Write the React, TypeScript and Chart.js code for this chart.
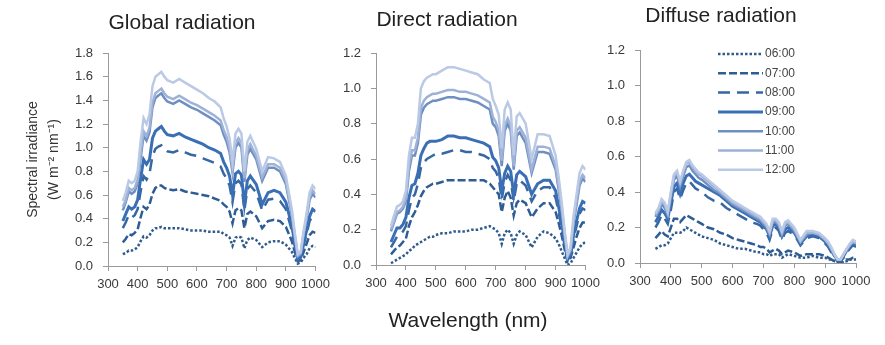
import React, { useEffect, useRef } from 'react';
import { Chart, registerables } from 'chart.js';

Chart.register(...registerables);

// ---------- DATA ----------
const WAVELENGTHS = [
  350, 360, 370, 380, 390, 400, 410, 420, 430, 440, 450, 460, 470, 480, 490, 500,
  520, 540, 560, 580, 600, 620, 640, 660, 680,
  690, 700, 710, 720, 730, 740, 750, 760, 770, 780,
  800, 820, 840, 860, 880,
  900, 910, 920, 930, 940, 950, 960, 970, 980, 990, 1000,
];

const HOURS = ['06:00', '07:00', '08:00', '09:00', '10:00', '11:00', '12:00'];

const X_TICKS = [300, 400, 500, 600, 700, 800, 900, 1000];
const Y_MAX_GLOBAL = 1.8;
const Y_MAX_DIRECT = 1.2;
const Y_MAX_DIFFUSE = 1.2;

// Global radiation
const GLOBAL_0600 = [
  0.10, 0.11, 0.13, 0.13, 0.14, 0.16, 0.21, 0.25, 0.24, 0.26, 0.30, 0.32, 0.32, 0.33, 0.32, 0.32,
  0.32, 0.32, 0.31, 0.30, 0.30, 0.30, 0.29, 0.29, 0.29,
  0.27, 0.26, 0.24, 0.17, 0.24, 0.25, 0.24, 0.15, 0.22, 0.24,
  0.22, 0.16, 0.20, 0.21, 0.21,
  0.18, 0.15, 0.12, 0.07, 0.02, 0.03, 0.07, 0.10, 0.15, 0.17, 0.16,
];
const GLOBAL_0700 = [
  0.20, 0.23, 0.27, 0.26, 0.28, 0.31, 0.41, 0.50, 0.48, 0.52, 0.61, 0.66, 0.68, 0.68, 0.66, 0.65,
  0.64, 0.65, 0.63, 0.62, 0.61, 0.60, 0.59, 0.57, 0.55,
  0.52, 0.50, 0.46, 0.36, 0.47, 0.49, 0.47, 0.32, 0.44, 0.46,
  0.42, 0.32, 0.38, 0.39, 0.38,
  0.33, 0.27, 0.21, 0.12, 0.04, 0.05, 0.12, 0.19, 0.26, 0.29, 0.28,
];
const GLOBAL_0800 = [
  0.32, 0.37, 0.43, 0.41, 0.43, 0.48, 0.63, 0.76, 0.73, 0.78, 0.93, 0.99, 1.01, 1.02, 0.99, 0.97,
  0.96, 0.98, 0.96, 0.94, 0.93, 0.91, 0.89, 0.87, 0.84,
  0.78, 0.74, 0.68, 0.54, 0.70, 0.72, 0.69, 0.47, 0.65, 0.68,
  0.62, 0.47, 0.56, 0.57, 0.55,
  0.48, 0.39, 0.30, 0.17, 0.05, 0.07, 0.18, 0.27, 0.38, 0.42, 0.40,
];
const GLOBAL_0900 = [
  0.38, 0.44, 0.50, 0.48, 0.50, 0.56, 0.74, 0.90, 0.86, 0.90, 1.08, 1.14, 1.16, 1.18, 1.14, 1.11,
  1.10, 1.12, 1.09, 1.07, 1.05, 1.03, 1.00, 0.98, 0.95,
  0.88, 0.83, 0.76, 0.60, 0.78, 0.80, 0.77, 0.52, 0.72, 0.76,
  0.69, 0.52, 0.62, 0.64, 0.62,
  0.54, 0.44, 0.34, 0.19, 0.06, 0.08, 0.20, 0.30, 0.42, 0.48, 0.46,
];
const GLOBAL_1000 = [
  0.47, 0.54, 0.63, 0.61, 0.63, 0.70, 0.91, 1.10, 1.06, 1.13, 1.34, 1.42, 1.44, 1.46, 1.42, 1.39,
  1.37, 1.40, 1.37, 1.34, 1.32, 1.29, 1.26, 1.23, 1.19,
  1.11, 1.05, 0.96, 0.79, 1.00, 1.04, 1.00, 0.71, 0.94, 0.99,
  0.90, 0.72, 0.83, 0.83, 0.80,
  0.69, 0.56, 0.43, 0.25, 0.08, 0.10, 0.27, 0.40, 0.56, 0.61, 0.58,
];
const GLOBAL_1100 = [
  0.50, 0.56, 0.66, 0.64, 0.66, 0.73, 0.95, 1.14, 1.10, 1.17, 1.38, 1.46, 1.48, 1.50, 1.46, 1.43,
  1.41, 1.44, 1.41, 1.38, 1.36, 1.33, 1.30, 1.27, 1.23,
  1.15, 1.09, 1.00, 0.82, 1.04, 1.08, 1.04, 0.74, 0.98, 1.03,
  0.93, 0.75, 0.86, 0.86, 0.83,
  0.72, 0.58, 0.45, 0.26, 0.09, 0.11, 0.28, 0.42, 0.58, 0.64, 0.61,
];
const GLOBAL_1200 = [
  0.55, 0.62, 0.72, 0.70, 0.72, 0.80, 1.05, 1.25, 1.20, 1.28, 1.52, 1.60, 1.62, 1.64, 1.60, 1.57,
  1.55, 1.58, 1.55, 1.52, 1.49, 1.46, 1.42, 1.39, 1.34,
  1.25, 1.18, 1.08, 0.88, 1.12, 1.16, 1.12, 0.80, 1.05, 1.10,
  0.99, 0.80, 0.92, 0.91, 0.88,
  0.76, 0.62, 0.48, 0.28, 0.10, 0.12, 0.30, 0.45, 0.62, 0.68, 0.65,
];

// Direct radiation
const DIRECT_0600 = [
  0.01, 0.02, 0.03, 0.04, 0.05, 0.06, 0.08, 0.09, 0.11, 0.12, 0.13, 0.14, 0.15, 0.16, 0.16, 0.17,
  0.18, 0.18, 0.19, 0.19, 0.19, 0.20, 0.20, 0.21, 0.22,
  0.21, 0.20, 0.18, 0.12, 0.18, 0.20, 0.18, 0.12, 0.17, 0.19,
  0.17, 0.10, 0.16, 0.19, 0.18,
  0.15, 0.12, 0.08, 0.04, 0.00, 0.01, 0.04, 0.07, 0.10, 0.12, 0.13,
];
const DIRECT_0700 = [
  0.06, 0.08, 0.10, 0.11, 0.13, 0.15, 0.22, 0.27, 0.30, 0.34, 0.39, 0.42, 0.44, 0.45, 0.46, 0.46,
  0.47, 0.48, 0.48, 0.48, 0.48, 0.48, 0.48, 0.48, 0.46,
  0.44, 0.42, 0.40, 0.30, 0.38, 0.42, 0.38, 0.28, 0.35, 0.37,
  0.35, 0.27, 0.32, 0.35, 0.35,
  0.30, 0.24, 0.17, 0.09, 0.02, 0.04, 0.10, 0.16, 0.21, 0.24, 0.24,
];
const DIRECT_0800 = [
  0.10, 0.13, 0.16, 0.17, 0.19, 0.22, 0.31, 0.38, 0.40, 0.46, 0.55, 0.58, 0.60, 0.61, 0.62, 0.63,
  0.63, 0.64, 0.65, 0.65, 0.64, 0.64, 0.63, 0.62, 0.60,
  0.55, 0.53, 0.49, 0.37, 0.47, 0.51, 0.48, 0.36, 0.46, 0.48,
  0.45, 0.36, 0.42, 0.44, 0.44,
  0.38, 0.30, 0.21, 0.11, 0.03, 0.05, 0.15, 0.22, 0.29, 0.32, 0.31,
];
const DIRECT_0900 = [
  0.13, 0.17, 0.21, 0.21, 0.23, 0.27, 0.38, 0.45, 0.46, 0.52, 0.62, 0.66, 0.69, 0.70, 0.70, 0.70,
  0.71, 0.73, 0.73, 0.72, 0.72, 0.71, 0.70, 0.69, 0.67,
  0.61, 0.59, 0.55, 0.42, 0.52, 0.56, 0.53, 0.40, 0.51, 0.53,
  0.50, 0.40, 0.46, 0.48, 0.48,
  0.42, 0.33, 0.24, 0.13, 0.04, 0.06, 0.17, 0.25, 0.32, 0.36, 0.35,
];
const DIRECT_1000 = [
  0.19, 0.24, 0.29, 0.30, 0.32, 0.36, 0.53, 0.62, 0.62, 0.69, 0.85, 0.89, 0.91, 0.92, 0.93, 0.93,
  0.94, 0.95, 0.95, 0.94, 0.94, 0.93, 0.92, 0.90, 0.88,
  0.80, 0.78, 0.73, 0.56, 0.76, 0.80, 0.76, 0.54, 0.73, 0.75,
  0.69, 0.52, 0.64, 0.64, 0.63,
  0.54, 0.43, 0.31, 0.17, 0.05, 0.08, 0.24, 0.34, 0.45, 0.49, 0.47,
];
const DIRECT_1100 = [
  0.20, 0.25, 0.30, 0.31, 0.33, 0.38, 0.56, 0.65, 0.65, 0.72, 0.89, 0.93, 0.95, 0.96, 0.97, 0.97,
  0.98, 0.99, 0.99, 0.98, 0.98, 0.97, 0.96, 0.94, 0.92,
  0.84, 0.81, 0.76, 0.59, 0.79, 0.83, 0.79, 0.56, 0.76, 0.78,
  0.72, 0.54, 0.67, 0.67, 0.66,
  0.56, 0.45, 0.33, 0.18, 0.05, 0.09, 0.25, 0.36, 0.47, 0.51, 0.49,
];
const DIRECT_1200 = [
  0.22, 0.28, 0.33, 0.34, 0.36, 0.42, 0.62, 0.72, 0.72, 0.80, 1.00, 1.04, 1.06, 1.07, 1.08, 1.08,
  1.10, 1.12, 1.12, 1.11, 1.10, 1.09, 1.08, 1.05, 1.03,
  0.94, 0.90, 0.85, 0.66, 0.88, 0.92, 0.88, 0.62, 0.84, 0.86,
  0.80, 0.60, 0.74, 0.74, 0.73,
  0.62, 0.50, 0.36, 0.20, 0.06, 0.10, 0.28, 0.40, 0.52, 0.56, 0.54,
];

// Diffuse radiation
const DIFFUSE_0600 = [
  0.08, 0.09, 0.10, 0.10, 0.11, 0.14, 0.17, 0.17, 0.17, 0.18, 0.20, 0.19, 0.18, 0.17, 0.16, 0.15,
  0.14, 0.13, 0.11, 0.10, 0.09, 0.08, 0.08, 0.07, 0.06,
  0.06, 0.05, 0.05, 0.04, 0.05, 0.05, 0.05, 0.03, 0.04, 0.05,
  0.04, 0.03, 0.03, 0.04, 0.03,
  0.03, 0.02, 0.02, 0.01, 0.00, 0.00, 0.01, 0.01, 0.02, 0.02, 0.02,
];
const DIFFUSE_0700 = [
  0.14, 0.16, 0.18, 0.16, 0.15, 0.20, 0.25, 0.25, 0.23, 0.25, 0.27, 0.26, 0.25, 0.24, 0.23, 0.22,
  0.20, 0.19, 0.17, 0.16, 0.14, 0.13, 0.12, 0.11, 0.10,
  0.09, 0.09, 0.08, 0.06, 0.07, 0.08, 0.07, 0.05, 0.06, 0.07,
  0.06, 0.04, 0.05, 0.05, 0.05,
  0.04, 0.03, 0.02, 0.01, 0.01, 0.00, 0.01, 0.02, 0.02, 0.03, 0.03,
];
const DIFFUSE_0800 = [
  0.20, 0.23, 0.27, 0.25, 0.22, 0.30, 0.40, 0.42, 0.36, 0.41, 0.45, 0.46, 0.44, 0.42, 0.41, 0.40,
  0.37, 0.35, 0.34, 0.31, 0.29, 0.27, 0.25, 0.23, 0.22,
  0.21, 0.19, 0.17, 0.13, 0.19, 0.20, 0.18, 0.13, 0.17, 0.18,
  0.16, 0.10, 0.14, 0.15, 0.14,
  0.11, 0.09, 0.06, 0.03, 0.01, 0.01, 0.03, 0.06, 0.08, 0.10, 0.09,
];
const DIFFUSE_0900 = [
  0.23, 0.26, 0.30, 0.28, 0.25, 0.34, 0.43, 0.45, 0.39, 0.45, 0.49, 0.50, 0.48, 0.46, 0.45, 0.44,
  0.42, 0.40, 0.38, 0.35, 0.32, 0.30, 0.28, 0.26, 0.24,
  0.23, 0.21, 0.19, 0.15, 0.21, 0.22, 0.20, 0.15, 0.19, 0.20,
  0.17, 0.11, 0.15, 0.16, 0.15,
  0.12, 0.10, 0.07, 0.04, 0.02, 0.02, 0.04, 0.07, 0.09, 0.11, 0.10,
];
const DIFFUSE_1000 = [
  0.26, 0.29, 0.33, 0.31, 0.27, 0.37, 0.47, 0.49, 0.43, 0.49, 0.54, 0.55, 0.52, 0.50, 0.48, 0.47,
  0.44, 0.41, 0.39, 0.36, 0.33, 0.31, 0.29, 0.27, 0.25,
  0.24, 0.22, 0.20, 0.16, 0.23, 0.23, 0.21, 0.16, 0.21, 0.22,
  0.18, 0.12, 0.16, 0.17, 0.16,
  0.13, 0.11, 0.08, 0.04, 0.02, 0.02, 0.05, 0.07, 0.10, 0.12, 0.11,
];
const DIFFUSE_1100 = [
  0.27, 0.30, 0.35, 0.33, 0.28, 0.39, 0.49, 0.51, 0.45, 0.51, 0.56, 0.57, 0.54, 0.52, 0.50, 0.49,
  0.46, 0.43, 0.40, 0.37, 0.34, 0.32, 0.30, 0.28, 0.26,
  0.25, 0.23, 0.21, 0.17, 0.24, 0.24, 0.22, 0.17, 0.22, 0.23,
  0.19, 0.12, 0.17, 0.17, 0.16,
  0.13, 0.11, 0.08, 0.05, 0.02, 0.02, 0.05, 0.08, 0.10, 0.12, 0.11,
];
const DIFFUSE_1200 = [
  0.28, 0.31, 0.36, 0.34, 0.29, 0.40, 0.50, 0.52, 0.46, 0.52, 0.57, 0.58, 0.55, 0.53, 0.51, 0.50,
  0.47, 0.44, 0.41, 0.38, 0.35, 0.33, 0.31, 0.29, 0.27,
  0.26, 0.24, 0.22, 0.18, 0.25, 0.25, 0.23, 0.18, 0.23, 0.24,
  0.20, 0.13, 0.18, 0.18, 0.17,
  0.14, 0.12, 0.09, 0.05, 0.02, 0.02, 0.05, 0.08, 0.11, 0.13, 0.12,
];

const GLOBAL_SERIES = [GLOBAL_0600, GLOBAL_0700, GLOBAL_0800, GLOBAL_0900, GLOBAL_1000, GLOBAL_1100, GLOBAL_1200];
const DIRECT_SERIES = [DIRECT_0600, DIRECT_0700, DIRECT_0800, DIRECT_0900, DIRECT_1000, DIRECT_1100, DIRECT_1200];
const DIFFUSE_SERIES = [DIFFUSE_0600, DIFFUSE_0700, DIFFUSE_0800, DIFFUSE_0900, DIFFUSE_1000, DIFFUSE_1100, DIFFUSE_1200];

// ---------- STYLES ----------
const FONT = '"Liberation Sans", Arial, Helvetica, sans-serif';
const LINE_STYLES = [
  { color: '#2f5b8c', dash: [2.5, 2], width: 2.5 },
  { color: '#2e5d96', dash: [8, 3], width: 2.5 },
  { color: '#3767a2', dash: [12, 7], width: 2.5 },
  { color: '#3a6fb6', dash: [], width: 3 },
  { color: '#6f8fc2', dash: [], width: 2.5 },
  { color: '#9db2d6', dash: [], width: 2.5 },
  { color: '#bac9e5', dash: [], width: 2.5 },
];
const AXIS_COLOR = '#9a9a9a';
const TICK_TEXT = '#3a3a3a';

const inlineLegend = {
  id: 'inlineLegend',
  afterDatasetsDraw(chart: any, _args: any, opts: any) {
    if (!opts || !opts.display) return;
    const { ctx, chartArea } = chart;
    ctx.save();
    chart.data.datasets.forEach((ds: any, i: number) => {
      const y = chartArea.top + opts.top + i * opts.rowGap;
      const x1 = chartArea.left + opts.left;
      const x2 = x1 + opts.lineLength;
      ctx.beginPath();
      ctx.setLineDash(ds.borderDash || []);
      ctx.lineWidth = ds.borderWidth;
      ctx.strokeStyle = ds.borderColor;
      ctx.lineCap = 'butt';
      ctx.moveTo(x1, y);
      ctx.lineTo(x2, y);
      ctx.stroke();
      ctx.setLineDash([]);
      ctx.fillStyle = opts.color;
      ctx.font = `${opts.fontSize}px ${FONT}`;
      ctx.textBaseline = 'middle';
      ctx.textAlign = 'left';
      ctx.fillText(ds.label, x2 + opts.gap, y);
    });
    ctx.restore();
  },
};

type PanelProps = {
  series: number[][];
  yMax: number;
  left: number;
  width: number;
  yWidth: number;
  padRight: number;
  padTop: number;
  xHeight: number;
  yTitle?: string[];
  legend?: boolean;
};

const HEIGHT = 345;

function Panel(p: PanelProps) {
  const ref = useRef<HTMLCanvasElement | null>(null);
  useEffect(() => {
    if (!ref.current) return;
    const datasets = p.series.map((arr, i) => ({
      label: HOURS[i],
      data: WAVELENGTHS.map((w, j) => ({ x: w, y: arr[j] })),
      borderColor: LINE_STYLES[i].color,
      borderDash: LINE_STYLES[i].dash,
      borderWidth: LINE_STYLES[i].width,
      borderCapStyle: 'butt',
      pointRadius: 0,
      tension: 0,
      fill: false,
      order: 7 - i,
    }));
    const chart = new Chart(ref.current, {
      type: 'line',
      data: { datasets } as any,
      plugins: p.legend ? [inlineLegend] : [],
      options: {
        animation: false,
        responsive: false,
        maintainAspectRatio: false,
        layout: { padding: { left: 0, right: p.padRight, top: p.padTop, bottom: 0 } },
        plugins: {
          legend: { display: false },
          tooltip: { enabled: false },
          title: { display: false },
          inlineLegend: {
            display: !!p.legend,
            top: 4,
            rowGap: 19.3,
            left: 78,
            lineLength: 45,
            gap: 2,
            fontSize: 12,
            color: '#444',
          },
        } as any,
        scales: {
          x: {
            type: 'linear',
            min: 300,
            max: 1000,
            afterBuildTicks: (scale: any) => {
              scale.ticks = X_TICKS.map((v) => ({ value: v }));
            },
            afterFit: (scale: any) => {
              scale.height = p.xHeight;
            },
            ticks: {
              autoSkip: false,
              maxRotation: 0,
              minRotation: 0,
              padding: 6,
              color: TICK_TEXT,
              font: { family: FONT, size: 13 },
              callback: (v: any) => String(v),
            },
            grid: { drawOnChartArea: false, drawTicks: true, tickLength: 5, color: AXIS_COLOR },
            border: { display: true, color: AXIS_COLOR, width: 1 },
          },
          y: {
            type: 'linear',
            min: 0,
            max: p.yMax,
            ticks: {
              stepSize: 0.2,
              padding: 10,
              color: TICK_TEXT,
              font: { family: FONT, size: 13 },
              callback: (v: any) => Number(v).toFixed(1),
            },
            afterFit: (scale: any) => {
              scale.width = p.yWidth;
            },
            title: p.yTitle
              ? {
                  display: true,
                  text: p.yTitle,
                  color: '#333',
                  font: { family: FONT, size: 14, lineHeight: 1.55 },
                  padding: { top: 22, bottom: 0 },
                }
              : { display: false },
            grid: { drawOnChartArea: false, drawTicks: true, tickLength: 5, color: AXIS_COLOR },
            border: { display: true, color: AXIS_COLOR, width: 1 },
          },
        },
      } as any,
    });
    return () => chart.destroy();
  }, []);
  return (
    <canvas
      ref={ref}
      width={p.width}
      height={HEIGHT}
      style={{ position: 'absolute', left: p.left, top: 0, width: p.width, height: HEIGHT }}
    />
  );
}

function Label({ text, cx, cy, size }: { text: string; cx: number; cy: number; size: number }) {
  return (
    <div
      style={{
        position: 'absolute',
        left: cx - 150,
        top: cy - 14,
        width: 300,
        height: 28,
        lineHeight: '28px',
        textAlign: 'center',
        fontFamily: FONT,
        fontSize: size,
        color: '#222',
        whiteSpace: 'pre',
      }}
    >
      {text}
    </div>
  );
}

export default function App() {
  return (
    <div
      style={{
        position: 'absolute',
        left: 0,
        top: 0,
        width: 885,
        height: HEIGHT,
        background: '#fff',
        overflow: 'hidden',
      }}
    >
      <Panel
        series={GLOBAL_SERIES}
        yMax={Y_MAX_GLOBAL}
        left={0}
        width={336}
        yWidth={108}
        padRight={20}
        padTop={53}
        xHeight={79}
        yTitle={['Spectral irradiance', '(W m⁻² nm⁻¹)']}
      />
      <Panel
        series={DIRECT_SERIES}
        yMax={Y_MAX_DIRECT}
        left={336}
        width={270}
        yWidth={40}
        padRight={19}
        padTop={53}
        xHeight={80}
      />
      <Panel
        series={DIFFUSE_SERIES}
        yMax={Y_MAX_DIFFUSE}
        left={606}
        width={279}
        yWidth={34}
        padRight={29}
        padTop={50}
        xHeight={82}
        legend
      />
      <Label text="Global radiation" cx={182} cy={22} size={21} />
      <Label text="Direct radiation" cx={447} cy={19} size={21} />
      <Label text="Diffuse radiation" cx={721} cy={15} size={21} />
      <Label text="Wavelength (nm)" cx={468} cy={320} size={21} />
    </div>
  );
}
